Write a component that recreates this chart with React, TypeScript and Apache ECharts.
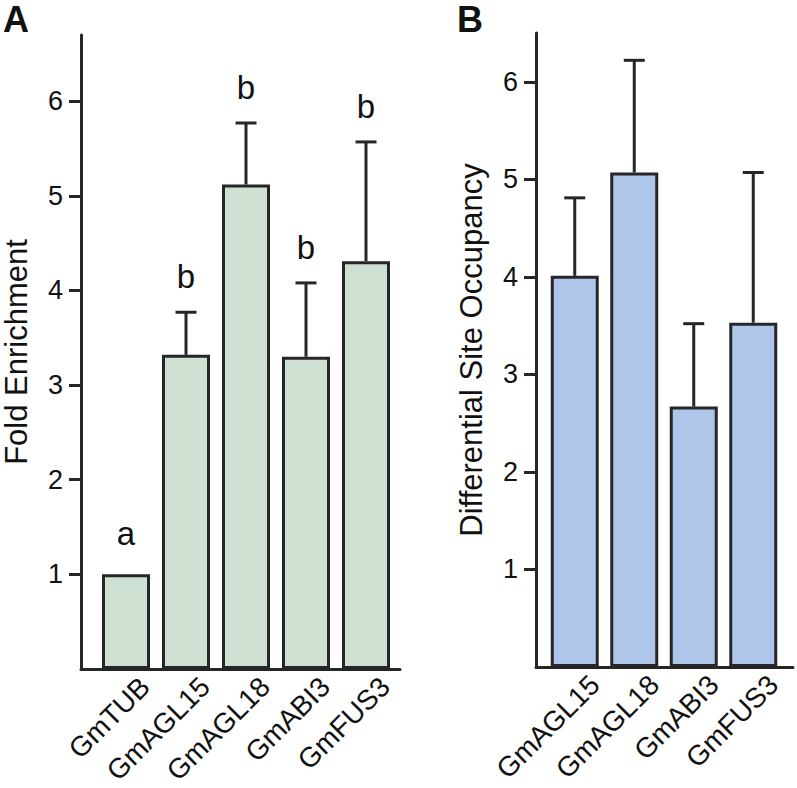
import React, { useEffect, useRef } from "react";
import * as echarts from "echarts";

const categoriesA = ["GmTUB", "GmAGL15", "GmAGL18", "GmABI3", "GmFUS3"];
const foldEnrichment = [1.0, 3.32, 5.12, 3.3, 4.31];
const foldEnrichmentUpper = [1.0, 3.77, 5.77, 4.08, 5.57];
const sigLetters = ["a", "b", "b", "b", "b"];

const categoriesB = ["GmAGL15", "GmAGL18", "GmABI3", "GmFUS3"];
const siteOccupancy = [4.01, 5.07, 2.67, 3.53];
const siteOccupancyUpper = [4.81, 6.22, 3.52, 5.07];

const yTicksA = [1, 2, 3, 4, 5, 6];
const yTicksB = [1, 2, 3, 4, 5, 6];

const FONT = '"Liberation Sans", Arial, Helvetica, sans-serif';
const AXIS = "#262626";
const TEXT = "#111111";

export default function App() {
  const ref = useRef<HTMLDivElement>(null);

  useEffect(() => {
    document.body.style.margin = "0";
    const chart = echarts.init(ref.current!, null, { renderer: "svg" });

    const grids = [
      { left: 81, top: 35, width: 319, height: 634 },
      { left: 96, top: 35, width: 300, height: 634 },
      { left: 115, top: 35, width: 300, height: 634 },
      { left: 536, top: 33, width: 257, height: 634 },
      { left: 545, top: 33, width: 238, height: 634 },
      { left: 565, top: 33, width: 238, height: 634 },
    ].map((g) => ({ ...g, containLabel: false, outerBoundsMode: "none" }));

    const hiddenX = (gridIndex: number, data: string[]) => ({
      type: "category",
      gridIndex,
      data,
      axisLine: { show: false },
      axisTick: { show: false },
      axisLabel: { show: false },
      splitLine: { show: false },
    });
    const labelX = (gridIndex: number, data: string[]) => ({
      type: "category",
      gridIndex,
      data,
      axisLine: { show: false },
      axisTick: { show: false },
      axisLabel: {
        show: true,
        rotate: 45,
        margin: 13,
        interval: 0,
        fontSize: 28,
        fontFamily: FONT,
        color: TEXT,
      },
      splitLine: { show: false },
    });
    const lineX = (gridIndex: number) => ({
      type: "value",
      gridIndex,
      min: 0,
      max: 1,
      axisLine: { show: true, onZero: false, lineStyle: { color: AXIS, width: 3 } },
      axisTick: { show: false },
      axisLabel: { show: false },
      splitLine: { show: false },
    });
    const visibleY = (gridIndex: number, max: number, ticks: number[], name: string) => ({
      type: "value",
      gridIndex,
      min: 0,
      max,
      interval: 1,
      name,
      nameLocation: "middle",
      nameGap: 49,
      nameTextStyle: { fontSize: 31, fontFamily: FONT, color: TEXT },
      axisLine: { show: true, onZero: false, lineStyle: { color: AXIS, width: 3 } },
      axisTick: {
        show: true,
        inside: false,
        length: 12,
        customValues: ticks,
        lineStyle: { color: AXIS, width: 3 },
      },
      axisLabel: {
        show: true,
        margin: 18,
        customValues: ticks,
        fontSize: 27,
        fontFamily: FONT,
        color: TEXT,
      },
      splitLine: { show: false },
    });
    const hiddenY = (gridIndex: number, max: number) => ({
      type: "value",
      gridIndex,
      min: 0,
      max,
      show: false,
      axisLine: { show: false, onZero: false },
      axisTick: { show: false },
      axisLabel: { show: false },
      splitLine: { show: false },
    });

    const errorSeries = (
      xAxisIndex: number,
      yAxisIndex: number,
      values: number[],
      upper: number[],
      letters: string[] | null
    ) => ({
      type: "custom",
      xAxisIndex,
      yAxisIndex,
      z: 5,
      data: values.map((v, i) => [i, v, upper[i]]),
      encode: { x: 0, y: [1, 2] },
      renderItem: (params: any, api: any) => {
        const i = api.value(0);
        const v = api.value(1);
        const u = api.value(2);
        const p0 = api.coord([i, v]);
        const p1 = api.coord([i, u]);
        const children: any[] = [];
        if (u > v) {
          children.push({
            type: "line",
            shape: { x1: p0[0], y1: p0[1], x2: p1[0], y2: p1[1] },
            style: { stroke: AXIS, lineWidth: 3 },
          });
          children.push({
            type: "line",
            shape: { x1: p1[0] - 10.5, y1: p1[1], x2: p1[0] + 10.5, y2: p1[1] },
            style: { stroke: AXIS, lineWidth: 3 },
          });
        }
        if (letters) {
          children.push({
            type: "text",
            x: p1[0],
            y: p1[1] - (u > v ? 19 : 24),
            style: {
              text: letters[params.dataIndex],
              font: `33px ${FONT}`,
              fill: TEXT,
              align: "center",
              verticalAlign: "bottom",
            },
          });
        }
        return { type: "group", children };
      },
    });

    const option: any = {
      animation: false,
      backgroundColor: "#ffffff",
      grid: grids,
      xAxis: [
        lineX(0),
        hiddenX(1, categoriesA),
        labelX(2, categoriesA),
        lineX(3),
        hiddenX(4, categoriesB),
        labelX(5, categoriesB),
      ],
      yAxis: [
        visibleY(0, 6.7, yTicksA, "Fold Enrichment"),
        hiddenY(1, 6.7),
        hiddenY(2, 6.7),
        visibleY(3, 6.5, yTicksB, "Differential Site Occupancy"),
        hiddenY(4, 6.5),
        hiddenY(5, 6.5),
      ],
      series: [
        {
          type: "bar",
          xAxisIndex: 1,
          yAxisIndex: 1,
          data: foldEnrichment,
          barWidth: 48,
          itemStyle: { color: "#cde0d1", borderColor: AXIS, borderWidth: 3 },
        },
        errorSeries(1, 1, foldEnrichment, foldEnrichmentUpper, sigLetters),
        {
          type: "bar",
          xAxisIndex: 4,
          yAxisIndex: 4,
          data: siteOccupancy,
          barWidth: 48,
          itemStyle: { color: "#aec6ea", borderColor: AXIS, borderWidth: 3 },
        },
        errorSeries(4, 4, siteOccupancy, siteOccupancyUpper, null),
      ],
      graphic: [
        {
          type: "text",
          left: 3,
          top: 1,
          style: { text: "A", font: `bold 36px ${FONT}`, fill: TEXT },
        },
        {
          type: "text",
          left: 457,
          top: 1,
          style: { text: "B", font: `bold 36px ${FONT}`, fill: TEXT },
        },
      ],
    };

    chart.setOption(option);
    return () => chart.dispose();
  }, []);

  return <div ref={ref} style={{ width: 797, height: 788 }} />;
}
